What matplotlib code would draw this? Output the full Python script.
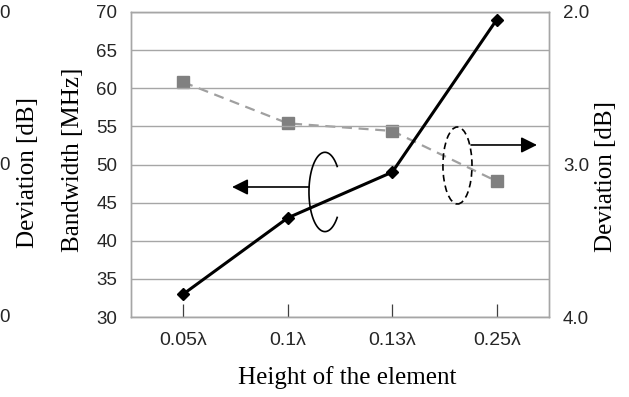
import matplotlib.pyplot as plt
from matplotlib.patches import Ellipse
import numpy as np

# data
heights = ['0.05\u03bb', '0.1\u03bb', '0.13\u03bb', '0.25\u03bb']
bandwidth = [33, 43, 49, 69]
deviation = [2.46, 2.73, 2.78, 3.11]

serif = 'Liberation Serif'
sans = 'Liberation Sans'
grid_gray = '#a6a6a6'
tick_color = '#262626'

fig = plt.figure(figsize=(6.29, 3.97), dpi=100)
ax = fig.add_axes([131 / 629, 1 - 317 / 397, 418 / 629, 305 / 397])
ax2 = ax.twinx()

x = np.arange(len(heights))

# right axis: deviation, inverted (2.0 at top)
ax2.plot(x, deviation, color='#a0a0a0', lw=1.6, ls=(0, (4.5, 3)),
         marker='s', ms=9, mfc='#808080', mec='#808080', zorder=2)
ax2.set_ylim(4.0, 2.0)
ax2.set_yticks([2.0, 3.0, 4.0])
ax2.set_yticklabels(['2.0', '3.0', '4.0'])

# left axis: bandwidth
ax.set_zorder(ax2.get_zorder() + 1)
ax.patch.set_visible(False)
ax.plot(x, bandwidth, color='black', lw=2.2, marker='D', ms=6,
        mfc='black', mec='black', zorder=3)
ax.set_ylim(30, 70)
ax.set_yticks(np.arange(30, 71, 5))
ax.set_xlim(-0.5, len(heights) - 0.5)
ax.set_xticks(x)
ax.set_xticklabels(heights)

ax.grid(axis='y', color=grid_gray, lw=1.0)
ax.set_axisbelow(True)
for a in (ax, ax2):
    for s in a.spines.values():
        s.set_color(grid_gray)
        s.set_linewidth(1.0)

ax.tick_params(axis='y', length=0, pad=10, labelsize=13.5, labelcolor=tick_color)
ax2.tick_params(axis='y', length=0, pad=10, labelsize=13.5, labelcolor=tick_color)
ax.tick_params(axis='x', direction='in', length=9.5, width=0.9, color='#404040',
               pad=11, labelsize=14, labelcolor=tick_color)
for lab in ax.get_xticklabels() + ax.get_yticklabels() + ax2.get_yticklabels():
    lab.set_family(sans)

# open loop around the bandwidth line, arrow to the left axis
t = np.radians(np.linspace(40, 320, 100))
ax.plot(1.356 + 0.153 * np.cos(t), 46.4 + 5.2 * np.sin(t),
        color='black', lw=1.2, zorder=4)
ax.annotate('', xy=(0.467, 47.05), xytext=(1.203, 47.05),
            arrowprops=dict(arrowstyle='-|>', color='black', lw=1.2,
                            mutation_scale=24, shrinkA=0, shrinkB=0))

# dashed loop around the deviation line, arrow to the right axis
ax.add_patch(Ellipse((2.624, 49.87), 0.278, 10.1, fill=False, color='black',
                     lw=1.2, ls=(0, (4, 2.5)), zorder=4))
ax.annotate('', xy=(3.385, 52.56), xytext=(2.754, 52.56),
            arrowprops=dict(arrowstyle='-|>', color='black', lw=1.2,
                            mutation_scale=24, shrinkA=0, shrinkB=0))

# axis titles
fig.text(73 / 629, 1 - 160 / 397, 'Bandwidth [MHz]', rotation=90,
         ha='center', va='center', family=serif, fontsize=18)
fig.text(606 / 629, 1 - 177 / 397, 'Deviation [dB]', rotation=90,
         ha='center', va='center', family=serif, fontsize=18)
fig.text(347 / 629, 1 - 378 / 397, 'Height of the element',
         ha='center', va='center', family=serif, fontsize=18)

# leftovers of the neighbouring chart at the left edge
fig.text(28 / 629, 1 - 172 / 397, 'Deviation [dB]', rotation=90,
         ha='center', va='center', family=serif, fontsize=18)
for py in (14, 166, 318):
    fig.text(5 / 629, 1 - py / 397, '0', ha='center', va='center',
             family=sans, fontsize=13.5, color=tick_color)

fig.savefig('out.png', dpi=100)
